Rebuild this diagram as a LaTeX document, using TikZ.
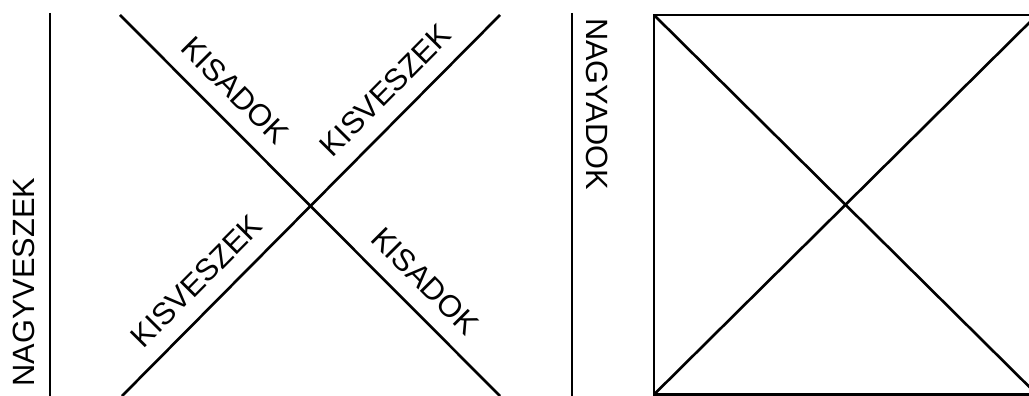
\documentclass[tikz,border=0pt]{standalone}
\usepackage{fontspec}
\setmainfont{Liberation Sans}
\tikzset{
  vonal/.style={line width=1.5pt},
  felirat/.style={inner sep=0pt},
  ferde/.style={felirat, sloped, above=9pt},
}

\begin{document}
\begin{tikzpicture}[x=0.02cm, y=0.02cm, font=\fontsize{17.5}{20}\selectfont]
  \clip (0,0) rectangle (1029,396);
  % bal abra
  \coordinate (bfent) at (50,383);
  \coordinate (blent) at (50,0);
  \coordinate (x1a) at (120,381);
  \coordinate (x1b) at (500,0);
  \coordinate (x2a) at (122,0);
  \coordinate (x2b) at (500,381);
  \node[felirat, rotate=90] (nagyveszek) at (24,114) {NAGYVESZEK};
  \draw[vonal] (bfent) -- (blent);
  \draw[vonal] (x1a) -- node[ferde, pos=0.25] (kisadok1) {KISADOK}
                        node[ferde, pos=0.75] (kisadok2) {KISADOK} (x1b);
  \draw[vonal] (x2a) -- node[ferde, pos=0.25] (kisveszek1) {KISVESZEK}
                        node[ferde, pos=0.75] (kisveszek2) {KISVESZEK} (x2b);
  % jobb abra
  \coordinate (jfent) at (572,383);
  \coordinate (jlent) at (572,0);
  \coordinate (dbl) at (654,1.5);
  \coordinate (djf) at (1037,381);
  \node[felirat, rotate=-90] (nagyadok) at (597,292) {NAGYADOK};
  \draw[vonal] (jfent) -- (jlent);
  \draw[vonal] (dbl) rectangle (djf);
  \draw[vonal] (dbl) -- (djf);
  \draw[vonal] (dbl |- djf) -- (djf |- dbl);
\end{tikzpicture}
\end{document}
